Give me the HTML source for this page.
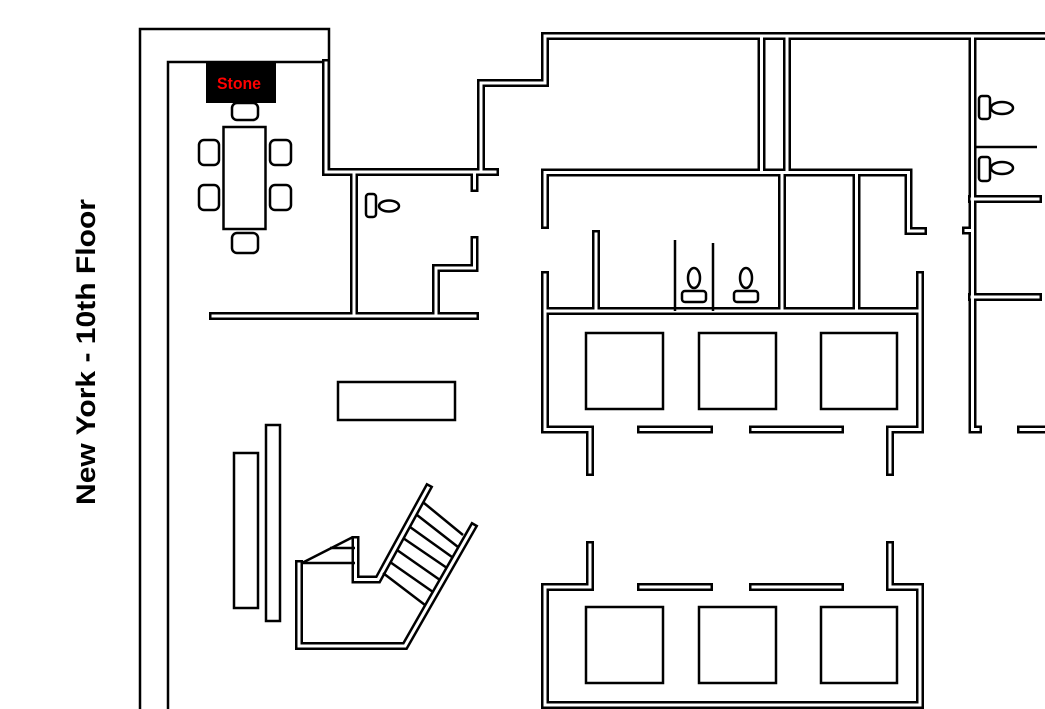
<!DOCTYPE html>
<html><head><meta charset="utf-8"><style>
html,body{margin:0;padding:0;background:#fff;}
svg{display:block;}
.w{fill:none;stroke:#000;stroke-width:8;stroke-linecap:square;stroke-linejoin:miter;}
.wi{fill:none;stroke:#fff;stroke-width:3;stroke-linecap:square;stroke-linejoin:miter;}
.s{fill:none;stroke:#000;stroke-width:2.5;}
</style></head><body>
<svg width="1045" height="709" viewBox="0 0 1045 709" xmlns="http://www.w3.org/2000/svg">
<defs>
<g id="walls">
<path d="M326,63 V172 H495"/>
<path d="M481,172 V83 H545 V36 H1050"/>
<path d="M474.5,172 V188"/>
<path d="M354,172 V316"/>
<path d="M213,316 H475"/>
<path d="M436,316 V268 H474.5 V240"/>
<path d="M761.5,37 V170"/>
<path d="M787,37 V170"/>
<path d="M545,225 V172.5 H908.5 V231 H923"/>
<path d="M545,275 V429.5 H590 V472"/>
<path d="M920,275 V429.5 H890 V472"/>
<path d="M545,311 H920"/>
<path d="M641,429.5 H709"/>
<path d="M753,429.5 H840"/>
<path d="M596,234 V311"/>
<path d="M782,175 V311"/>
<path d="M856.5,175 V311"/>
<path d="M972.5,36 V429.5 H978"/>
<path d="M966,230.5 H972"/>
<path d="M972,199 H1038"/>
<path d="M972,297 H1038"/>
<path d="M1021,429.5 H1050"/>
<path d="M590,545 V587 H545 V705 H920 V587 H890 V545"/>
<path d="M641,587 H709"/>
<path d="M753,587 H840"/>
<path d="M299,564 V646 H405 L473,527"/>
<path d="M355.5,540 V579.5 H378 L428,488"/>
</g>
</defs>
<use href="#walls" class="w"/>
<use href="#walls" class="wi"/>
<path class="s" d="M140,709 V29 H329 V169"/>
<path class="s" d="M168,709 V62 H323"/>
<rect x="206" y="62" width="70" height="41" fill="#000"/>
<text x="239" y="89" fill="#ff0000" font-family="Liberation Sans, sans-serif" font-weight="bold" font-size="17" text-anchor="middle" textLength="44" lengthAdjust="spacingAndGlyphs">Stone</text>
<rect class="s" x="223.5" y="127" width="42" height="102"/>
<rect class="s" x="232" y="103" width="26" height="17" rx="5"/>
<rect class="s" x="232" y="233" width="26" height="20" rx="5"/>
<rect class="s" x="199" y="140" width="20" height="25" rx="5"/>
<rect class="s" x="199" y="185" width="20" height="25" rx="5"/>
<rect class="s" x="270" y="140" width="21" height="25" rx="5"/>
<rect class="s" x="270" y="185" width="21" height="25" rx="5"/>
<rect class="s" x="366" y="194" width="10" height="23" rx="3"/>
<ellipse class="s" cx="389" cy="206" rx="10" ry="5.5"/>
<line class="s" x1="675" y1="240" x2="675" y2="311"/>
<line class="s" x1="713" y1="243" x2="713" y2="311"/>
<ellipse class="s" cx="694" cy="278" rx="6" ry="10"/>
<rect class="s" x="682" y="291" width="24" height="11" rx="3"/>
<ellipse class="s" cx="746" cy="278" rx="6" ry="10"/>
<rect class="s" x="734" y="291" width="24" height="11" rx="3"/>
<line class="s" x1="976" y1="147" x2="1037" y2="147"/>
<rect class="s" x="979" y="96" width="11" height="23" rx="3"/>
<ellipse class="s" cx="1002" cy="108" rx="11" ry="6"/>
<rect class="s" x="979" y="157" width="11" height="24" rx="3"/>
<ellipse class="s" cx="1002" cy="168" rx="11" ry="6"/>
<rect class="s" x="586" y="333" width="77" height="76"/>
<rect class="s" x="699" y="333" width="77" height="76"/>
<rect class="s" x="821" y="333" width="76" height="76"/>
<rect class="s" x="586" y="607" width="77" height="76"/>
<rect class="s" x="699" y="607" width="77" height="76"/>
<rect class="s" x="821" y="607" width="76" height="76"/>
<rect class="s" x="338" y="382" width="117" height="38"/>
<rect class="s" x="234" y="453" width="24" height="155"/>
<rect class="s" x="266" y="425" width="14" height="196"/>
<path class="s" d="M302,563 L353,537"/>
<path class="s" d="M330,548 H355"/>
<path class="s" d="M302,563 H355"/>
<g class="s">
<line x1="424" y1="503" x2="463" y2="535"/>
<line x1="417" y1="515" x2="458" y2="547"/>
<line x1="410" y1="527" x2="452" y2="557"/>
<line x1="403" y1="538" x2="447" y2="568"/>
<line x1="397" y1="550" x2="440" y2="580"/>
<line x1="390" y1="562" x2="433" y2="592"/>
<line x1="383" y1="573" x2="425" y2="605"/>
</g>
<text transform="translate(95,352) rotate(-90)" font-family="Liberation Sans, sans-serif" font-weight="bold" font-size="27" text-anchor="middle" textLength="306" lengthAdjust="spacingAndGlyphs">New York - 10th Floor</text>
</svg>
</body></html>
